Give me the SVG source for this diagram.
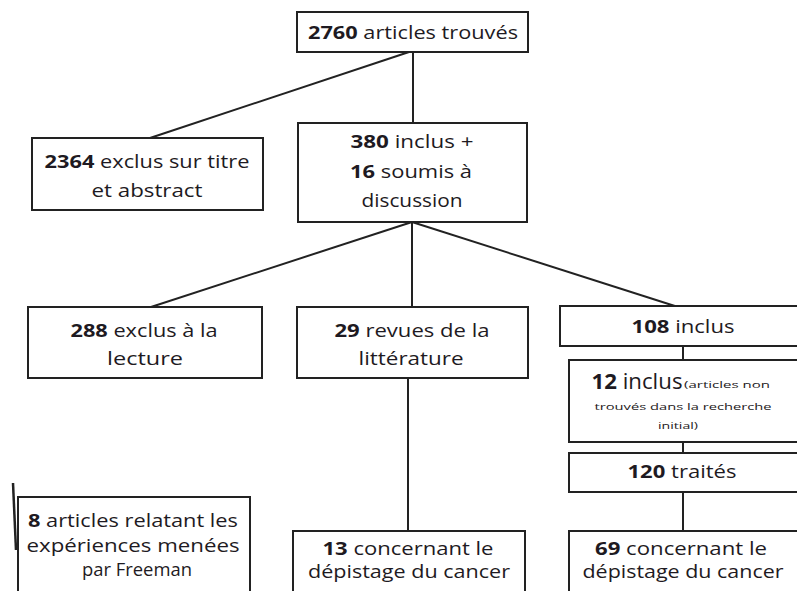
<svg xmlns="http://www.w3.org/2000/svg" width="797" height="591" viewBox="0 0 797 591">
<style>
rect.b{fill:#fff;stroke:#222;stroke-width:2}
.c line{stroke:#222;stroke-width:2}
text{font-family:"Open Sans","Liberation Sans",sans-serif;font-size:18.5px;fill:#1e1a22;text-anchor:middle}
tspan.n{font-weight:bold}
text.s{font-size:8.5px}
</style>
<rect width="797" height="591" fill="#fff"/>
<g class="c" id="connectors">
<line x1="409" y1="52" x2="150" y2="138"/>
<line x1="413" y1="52" x2="413" y2="123"/>
<line x1="412" y1="222" x2="151" y2="307"/>
<line x1="412" y1="222" x2="412" y2="307"/>
<line x1="412" y1="222" x2="678" y2="307"/>
<line x1="408" y1="378" x2="408" y2="531"/>
<line x1="683" y1="346" x2="683" y2="360"/>
<line x1="683" y1="432" x2="683" y2="453"/>
<line x1="683" y1="492" x2="683" y2="531"/>
<line x1="13" y1="483" x2="16" y2="550" style="stroke-width:2.5"/>
</g>
<g id="n2760">
<rect class="b" x="297" y="12" width="231" height="40"/>
<text x="413" y="39" textLength="210" lengthAdjust="spacingAndGlyphs"><tspan class="n">2760</tspan> articles trouvés</text>
</g>
<g id="n2364">
<rect class="b" x="32" y="138" width="231" height="72"/>
<text x="147" y="168" textLength="205" lengthAdjust="spacingAndGlyphs"><tspan class="n">2364</tspan> exclus sur titre</text>
<text x="147" y="197" textLength="111" lengthAdjust="spacingAndGlyphs">et abstract</text>
</g>
<g id="n380">
<rect class="b" x="298" y="123" width="229" height="99"/>
<text x="412" y="148" textLength="123" lengthAdjust="spacingAndGlyphs"><tspan class="n">380</tspan> inclus +</text>
<text x="411" y="178" textLength="122" lengthAdjust="spacingAndGlyphs"><tspan class="n">16</tspan> soumis à</text>
<text x="412" y="207" textLength="101" lengthAdjust="spacingAndGlyphs">discussion</text>
</g>
<g id="n288">
<rect class="b" x="28" y="307" width="234" height="71"/>
<text x="144" y="337" textLength="147" lengthAdjust="spacingAndGlyphs"><tspan class="n">288</tspan> exclus à la</text>
<text x="145" y="365" textLength="76" lengthAdjust="spacingAndGlyphs">lecture</text>
</g>
<g id="n29">
<rect class="b" x="297" y="307" width="231" height="71"/>
<text x="412" y="337" textLength="155" lengthAdjust="spacingAndGlyphs"><tspan class="n">29</tspan> revues de la</text>
<text x="411" y="365" textLength="105" lengthAdjust="spacingAndGlyphs">littérature</text>
</g>
<g id="n108">
<rect class="b" x="560" y="306" width="245" height="40"/>
<text x="683" y="333" textLength="103" lengthAdjust="spacingAndGlyphs"><tspan class="n">108</tspan> inclus</text>
</g>
<g id="n12">
<rect class="b" x="569" y="360" width="236" height="82"/>
<text x="637" y="389" style="font-size:22px" textLength="91" lengthAdjust="spacingAndGlyphs"><tspan class="n">12</tspan> inclus</text>
<text class="s" x="727" y="388" textLength="86" lengthAdjust="spacingAndGlyphs">(articles non</text>
<text class="s" x="683" y="410" textLength="177" lengthAdjust="spacingAndGlyphs">trouvés  dans la recherche</text>
<text class="s" x="678" y="429" textLength="40" lengthAdjust="spacingAndGlyphs">initial)</text>
</g>
<g id="n120">
<rect class="b" x="569" y="453" width="236" height="39"/>
<text x="682" y="478" textLength="109" lengthAdjust="spacingAndGlyphs"><tspan class="n">120</tspan> traités</text>
</g>
<g id="n8">
<rect class="b" x="18" y="497" width="232" height="110"/>
<text x="133" y="527" textLength="210" lengthAdjust="spacingAndGlyphs"><tspan class="n">8</tspan> articles relatant les</text>
<text x="133" y="552" textLength="213" lengthAdjust="spacingAndGlyphs">expériences menées</text>
<text x="137" y="576" textLength="110" lengthAdjust="spacingAndGlyphs">par Freeman</text>
</g>
<g id="n13">
<rect class="b" x="293" y="531" width="232" height="76"/>
<text x="408" y="555" textLength="171" lengthAdjust="spacingAndGlyphs"><tspan class="n">13</tspan> concernant le</text>
<text x="409" y="578" textLength="202" lengthAdjust="spacingAndGlyphs">dépistage du cancer</text>
</g>
<g id="n69">
<rect class="b" x="569" y="531" width="236" height="76"/>
<text x="681" y="555" textLength="172" lengthAdjust="spacingAndGlyphs"><tspan class="n">69</tspan> concernant le</text>
<text x="683" y="578" textLength="201" lengthAdjust="spacingAndGlyphs">dépistage du cancer</text>
</g>
</svg>
